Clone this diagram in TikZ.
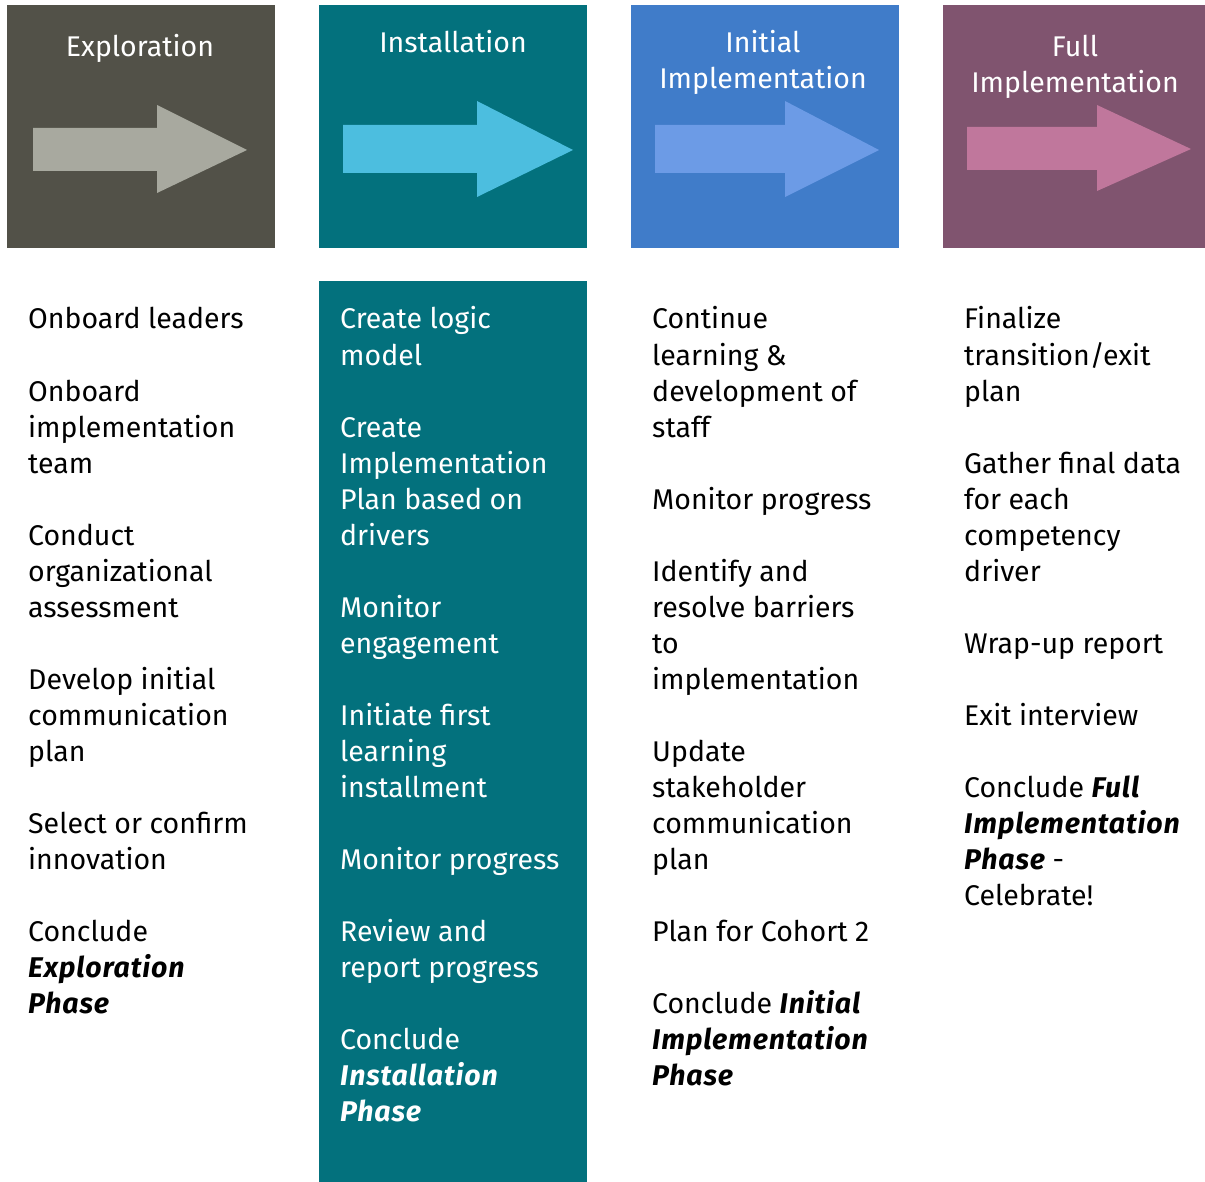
\documentclass[tikz,border=0pt]{standalone}
\usepackage{fontspec}
\setmainfont{Fira Sans}
% bold italic phase names, slightly tracked out
\newcommand{\phasename}[1]{{\bfseries\itshape\addfontfeature{LetterSpace=3}#1}}
\begin{document}
\begin{tikzpicture}[x=1pt,y=-1pt,
  txt/.style={anchor=base west,inner sep=0pt,font=\fontsize{28.5}{36}\selectfont},
  ttl/.style={anchor=base,inner sep=0pt,text=white,font=\fontsize{28.5}{36}\selectfont}]
\definecolor{explore}{HTML}{525148}
\definecolor{exploreA}{HTML}{A8A99F}
\definecolor{install}{HTML}{03717D}
\definecolor{installA}{HTML}{4CBEDF}
\definecolor{initial}{HTML}{407CC9}
\definecolor{initialA}{HTML}{6C9BE6}
\definecolor{full}{HTML}{80546F}
\definecolor{fullA}{HTML}{C0779C}
\useasboundingbox (0,0) rectangle (1205,1182);

% phase header tiles
\fill[explore] (7,5) rectangle (275,248);
\fill[install] (319,5) rectangle (587,248);
\fill[initial] (631,5) rectangle (899,248);
\fill[full] (943,5) rectangle (1205,248);

% block arrows
\fill[exploreA] (33,128) -- (157,128) -- (157,105) -- (247,150) -- (157,193) -- (157,171) -- (33,171) -- cycle;
\fill[installA] (343,125) -- (477,125) -- (477,101) -- (573,150) -- (477,197) -- (477,173) -- (343,173) -- cycle;
\fill[initialA] (655,125) -- (785,125) -- (785,101) -- (879,150) -- (785,197) -- (785,173) -- (655,173) -- cycle;
\fill[fullA] (967,127) -- (1097,127) -- (1097,105) -- (1191,149) -- (1097,191) -- (1097,170) -- (967,170) -- cycle;

% tile titles
\node[ttl] (t1) at (140,57) {Exploration};
\node[ttl] (t2) at (453,53) {Installation};
\node[ttl] (t3a) at (763,53) {Initial};
\node[ttl] (t3b) at (763,89) {Implementation};
\node[ttl] (t4a) at (1075,57) {Full};
\node[ttl] (t4b) at (1075,93) {Implementation};

% highlighted installation column
\fill[install] (319,281) rectangle (587,1182);

% task lists, one line per row of 36pt
\foreach \r/\t [count=\i] in {
  0/Onboard leaders,
  2/Onboard, 3/implementation, 4/team,
  6/Conduct, 7/organizational, 8/assessment,
  10/Develop initial, 11/communication, 12/plan,
  14/Select or confirm, 15/innovation,
  17/Conclude, 18/{\phasename{Exploration}}, 19/{\phasename{Phase}}}
  \node[txt] (a\i) at (28,329+36*\r) {\t};

\foreach \r/\t [count=\i] in {
  0/Create logic, 1/model,
  3/Create, 4/Implementation, 5/Plan based on, 6/drivers,
  8/Monitor, 9/engagement,
  11/Initiate first, 12/learning, 13/installment,
  15/Monitor progress,
  17/Review and, 18/report progress,
  20/Conclude, 21/{\phasename{Installation}}, 22/{\phasename{Phase}}}
  \node[txt,text=white] (b\i) at (340,329+36*\r) {\t};

\foreach \r/\t [count=\i] in {
  0/Continue, 1/learning \&, 2/development of, 3/staff,
  5/Monitor progress,
  7/Identify and, 8/resolve barriers, 9/to, 10/implementation,
  12/Update, 13/stakeholder, 14/communication, 15/plan,
  17/Plan for Cohort 2,
  19/{Conclude \phasename{Initial}}, 20/{\phasename{Implementation}}, 21/{\phasename{Phase}}}
  \node[txt] (c\i) at (652,329+36*\r) {\t};

\foreach \r/\t [count=\i] in {
  0/Finalize, 1/{transition/exit}, 2/plan,
  4/Gather final data, 5/for each, 6/competency, 7/driver,
  9/Wrap-up report,
  11/Exit interview,
  13/{Conclude \phasename{Full}}, 14/{\phasename{Implementation}}, 15/{\phasename{Phase} -}, 16/Celebrate!}
  \node[txt] (d\i) at (964,329+36*\r) {\t};
\end{tikzpicture}
\end{document}
